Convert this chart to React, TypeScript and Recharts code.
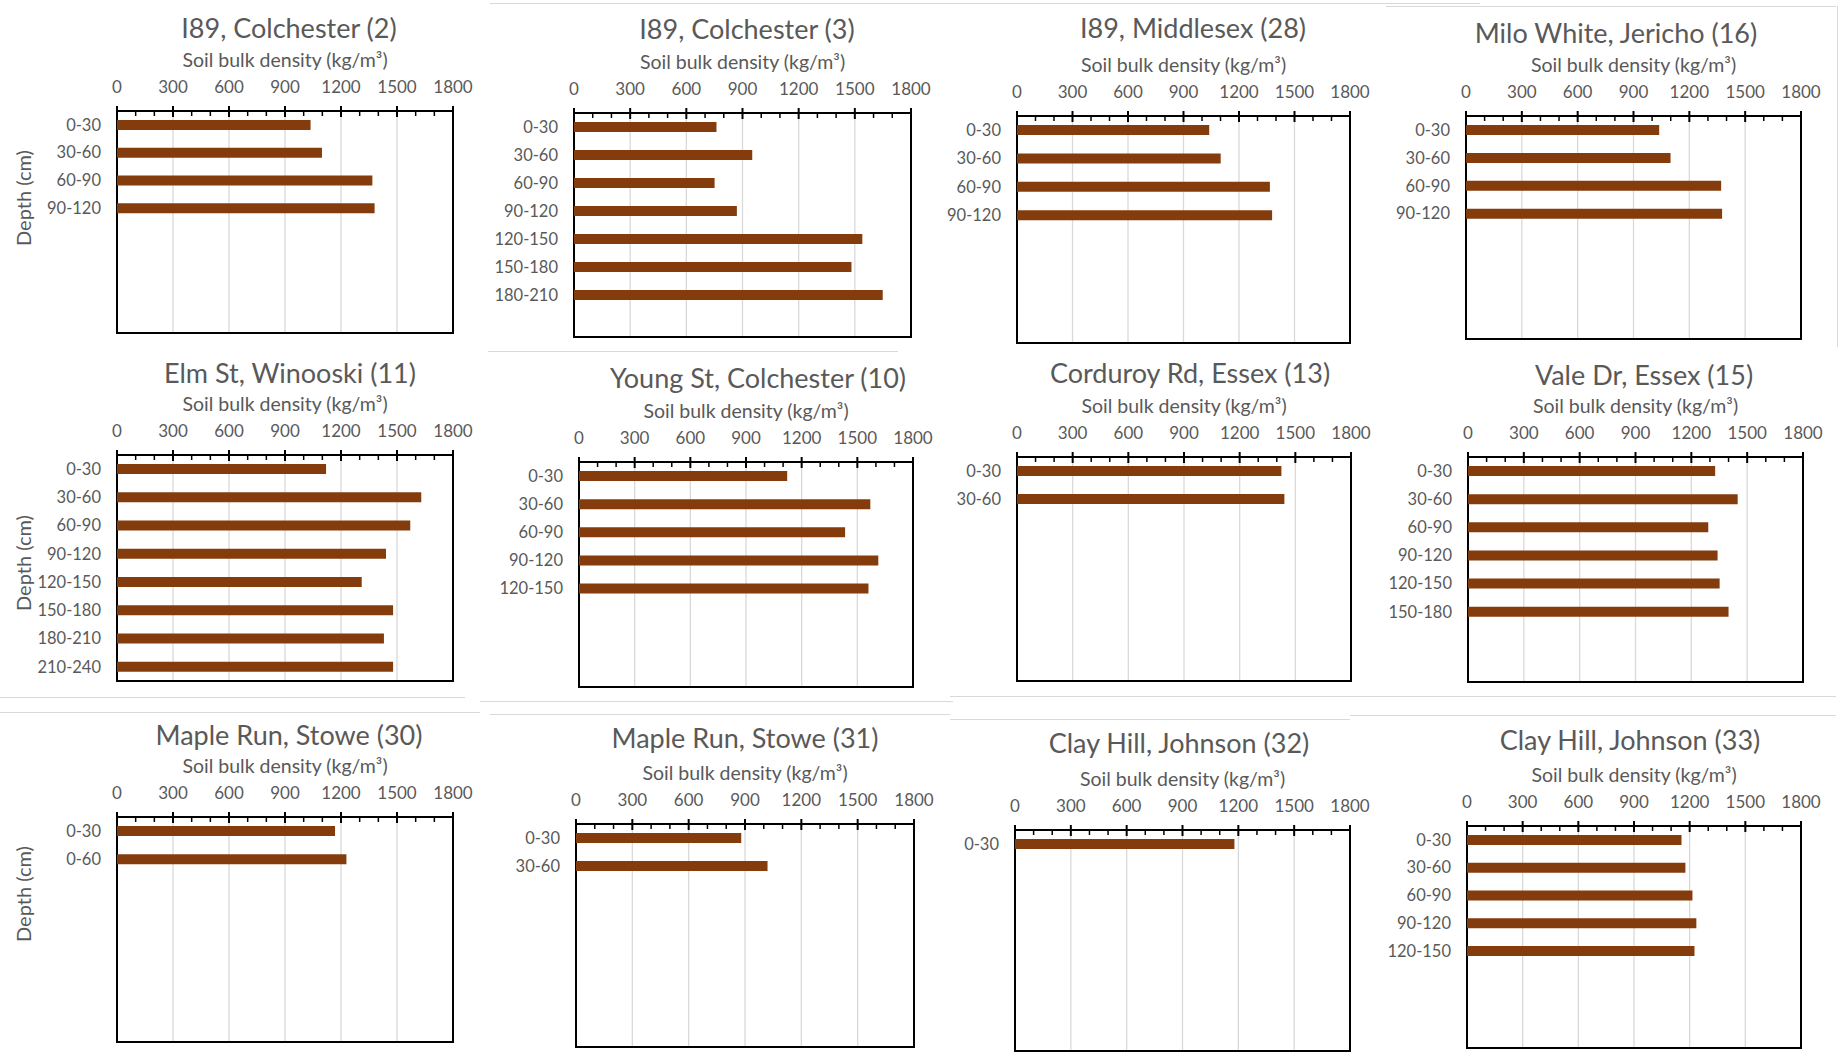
import React from 'react';
import { BarChart, Bar, XAxis, YAxis, CartesianGrid, ReferenceArea } from 'recharts';

// depth classes (cm)
const DEPTHS = ['0-30', '30-60', '60-90', '90-120', '120-150', '150-180', '180-210', '210-240'];
const MAPLE_RUN_30_DEPTHS = ['0-30', '0-60'];

// soil bulk density, kg/m3
const i89Colchester2 = [1037, 1098, 1368, 1380];
const i89Colchester3 = [761, 952, 751, 870, 1540, 1482, 1649];
const i89Middlesex28 = [1039, 1101, 1367, 1379];
const miloWhite16 = [1038, 1099, 1371, 1376];
const elmSt11 = [1120, 1630, 1571, 1441, 1311, 1479, 1430, 1479];
const youngSt10 = [1122, 1570, 1434, 1613, 1560];
const corduroyRd13 = [1425, 1441];
const valeDr15 = [1328, 1449, 1291, 1341, 1352, 1400];
const mapleRun30 = [1168, 1229];
const mapleRun31 = [880, 1020];
const clayHill32 = [1179];
const clayHill33 = [1156, 1177, 1215, 1236, 1226];

const X_TICKS = [0, 100, 200, 300, 400, 500, 600, 700, 800, 900, 1000, 1100, 1200, 1300, 1400, 1500, 1600, 1700, 1800];
const GRID_VALUES = [0, 300, 600, 900, 1200, 1500, 1800];
const SLOTS = 8;

const SITES = [
  { title: 'I89, Colchester (2)', depths: DEPTHS, values: i89Colchester2 },
  { title: 'I89, Colchester (3)', depths: DEPTHS, values: i89Colchester3 },
  { title: 'I89, Middlesex (28)', depths: DEPTHS, values: i89Middlesex28 },
  { title: 'Milo White, Jericho (16)', depths: DEPTHS, values: miloWhite16 },
  { title: 'Elm St, Winooski (11)', depths: DEPTHS, values: elmSt11 },
  { title: 'Young St, Colchester (10)', depths: DEPTHS, values: youngSt10 },
  { title: 'Corduroy Rd, Essex (13)', depths: DEPTHS, values: corduroyRd13 },
  { title: 'Vale Dr, Essex (15)', depths: DEPTHS, values: valeDr15 },
  { title: 'Maple Run, Stowe (30)', depths: MAPLE_RUN_30_DEPTHS, values: mapleRun30 },
  { title: 'Maple Run, Stowe (31)', depths: DEPTHS, values: mapleRun31 },
  { title: 'Clay Hill, Johnson (32)', depths: DEPTHS, values: clayHill32 },
  { title: 'Clay Hill, Johnson (33)', depths: DEPTHS, values: clayHill33 },
];

// plot rectangles [left, top, right, bottom] and title centres, page pixels
const LAYOUT = [
  { plot: [117, 111, 453, 333], titleX: 289, titleY: 27, depthY: 198 },
  { plot: [574, 113, 911, 337], titleX: 747, titleY: 28 },
  { plot: [1017, 116, 1350, 343], titleX: 1193, titleY: 27 },
  { plot: [1466, 116, 1801, 339], titleX: 1616, titleY: 32 },
  { plot: [117, 455, 453, 681], titleX: 290, titleY: 372, depthY: 563 },
  { plot: [579, 462, 913, 687], titleX: 758, titleY: 377 },
  { plot: [1017, 457, 1351, 681], titleX: 1190, titleY: 372 },
  { plot: [1468, 457, 1803, 682], titleX: 1644, titleY: 374 },
  { plot: [117, 817, 453, 1042], titleX: 289, titleY: 734, depthY: 894 },
  { plot: [576, 824, 914, 1047], titleX: 745, titleY: 737 },
  { plot: [1015, 830, 1350, 1051], titleX: 1179, titleY: 742 },
  { plot: [1467, 826, 1801, 1048], titleX: 1630, titleY: 739 },
];

// faint frame edges left over from the source charts: [x1, y1, x2, y2]
const FRAME_LINES = [
  [490, 3, 1480, 3],
  [1386, 6, 1836, 6],
  [1837, 6, 1837, 347],
  [488, 351, 898, 351],
  [0, 697, 465, 697],
  [480, 701, 953, 701],
  [950, 696, 1836, 696],
  [0, 712, 480, 712],
  [490, 714, 950, 714],
  [950, 719, 1350, 719],
  [1350, 715, 1836, 715],
];

const FONT = 'Lato, "Open Sans", sans-serif';
const TEXT = '#595959';
const BAR = '#843C0C';

const AX_H = 30;
const Y_W = 100;
const MARGIN = { top: 60, right: 30, bottom: 8, left: 5 };

function TopTick(props: any) {
  const { x, y, payload } = props;
  const v = payload.value;
  const major = v % 300 === 0;
  return (
    <g>
      {major ? (
        <line x1={x} x2={x} y1={y - 5} y2={y + 6} stroke="#000" strokeWidth={2} />
      ) : (
        <line x1={x} x2={x} y1={y} y2={y + 5} stroke="#000" strokeWidth={1.5} />
      )}
      {major && (
        <text x={x} y={y - 18} textAnchor="middle" fill={TEXT} fontSize={17} fontFamily={FONT}>
          {v}
        </text>
      )}
    </g>
  );
}

function Panel({ site, layout }: { site: (typeof SITES)[number]; layout: (typeof LAYOUT)[number] }) {
  const [l, t, r, b] = layout.plot;
  const width = r - l + Y_W + MARGIN.left + MARGIN.right;
  const height = b - t + AX_H + MARGIN.top + MARGIN.bottom;
  const rows = Array.from({ length: SLOTS }, (_, i) => ({
    slot: i,
    density: i < site.values.length ? site.values[i] : null,
  }));
  const depthLabel = (i: number) => (i < site.values.length ? site.depths[i] : '');

  return (
    <>
      <div
        style={{
          position: 'absolute',
          left: layout.titleX,
          top: layout.titleY,
          transform: 'translate(-50%, -50%)',
          fontFamily: FONT,
          fontSize: 27,
          lineHeight: 1,
          color: TEXT,
          whiteSpace: 'nowrap',
        }}
      >
        {site.title}
      </div>
      {layout.depthY !== undefined && (
        <div
          style={{
            position: 'absolute',
            left: 23,
            top: layout.depthY,
            transform: 'translate(-50%, -50%) rotate(-90deg)',
            fontFamily: FONT,
            fontSize: 20,
            lineHeight: 1,
            color: TEXT,
            whiteSpace: 'nowrap',
          }}
        >
          Depth (cm)
        </div>
      )}
      <div
        style={{
          position: 'absolute',
          left: l - Y_W - MARGIN.left,
          top: t - AX_H - MARGIN.top,
          width,
          height,
        }}
      >
        <BarChart width={width} height={height} data={rows} layout="vertical" margin={MARGIN}>
          <CartesianGrid
            horizontal={false}
            verticalValues={GRID_VALUES}
            stroke="#d9d9d9"
            strokeWidth={1.3}
          />
          <XAxis
            type="number"
            orientation="top"
            domain={[0, 1800]}
            ticks={X_TICKS}
            interval={0}
            height={AX_H}
            tickSize={0}
            tickMargin={0}
            tickLine={false}
            axisLine={{ stroke: '#000', strokeWidth: 2 }}
            tick={<TopTick />}
            label={{
              value: 'Soil bulk density (kg/m³)',
              position: 'top',
              offset: 14,
              fill: TEXT,
              fontSize: 19.5,
              fontFamily: FONT,
            }}
          />
          <YAxis
            type="category"
            dataKey="slot"
            width={Y_W}
            tickLine={false}
            axisLine={false}
            tickSize={0}
            tickMargin={16}
            interval={0}
            tickFormatter={depthLabel}
            tick={{ fill: TEXT, fontSize: 16.5, fontFamily: FONT }}
          />
          <Bar dataKey="density" fill={BAR} barSize={10} isAnimationActive={false} />
          <ReferenceArea x1={0} x2={1800} fill="none" fillOpacity={0} stroke="#000" strokeWidth={2} />
        </BarChart>
      </div>
    </>
  );
}

export default function App() {
  return (
    <div
      style={{
        position: 'absolute',
        left: 0,
        top: 0,
        width: 1846,
        height: 1060,
        background: '#fff',
        overflow: 'hidden',
      }}
    >
      {FRAME_LINES.map(([x1, y1, x2, y2], i) => (
        <div
          key={`f-${i}`}
          style={{
            position: 'absolute',
            left: x1,
            top: y1,
            width: Math.max(x2 - x1, 1),
            height: Math.max(y2 - y1, 1),
            background: '#d9d9d9',
          }}
        />
      ))}
      {SITES.map((site, i) => (
        <Panel key={site.title} site={site} layout={LAYOUT[i]} />
      ))}
    </div>
  );
}
